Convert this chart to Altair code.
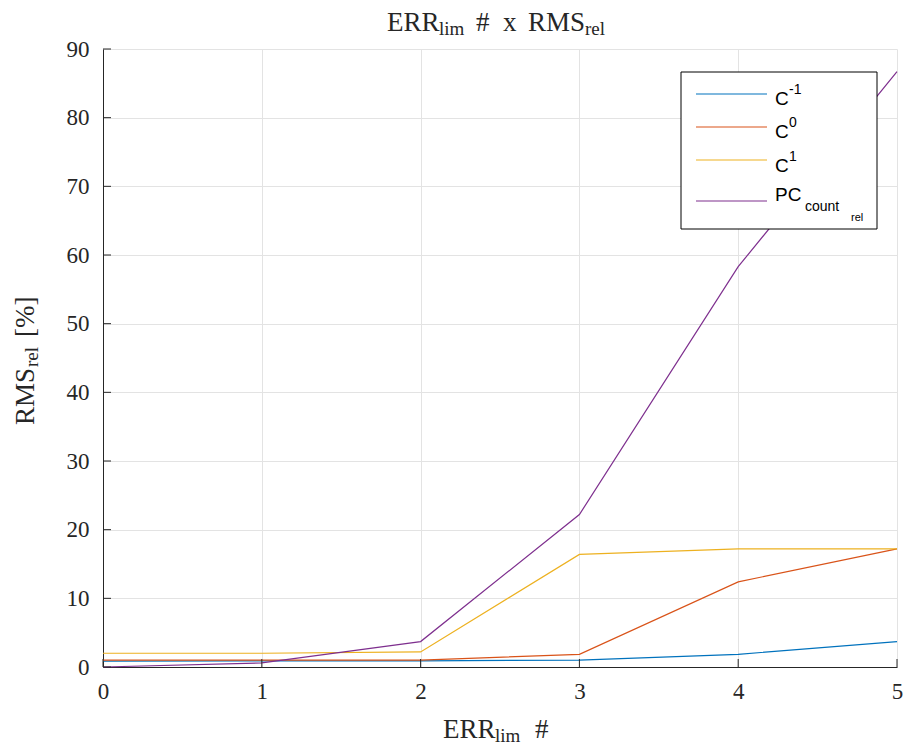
import altair as alt
import pandas as pd

# ---- data ----
err_lim = [0, 1, 2, 3, 4, 5]
c_minus1 = [0.85, 0.9, 0.9, 1.0, 1.85, 3.7]
c_zero = [1.0, 1.0, 1.0, 1.85, 12.4, 17.2]
c_one = [2.0, 2.0, 2.2, 16.4, 17.2, 17.2]
pc_count_rel = [0.0, 0.6, 3.7, 22.2, 58.3, 86.7]
series_ids = ["s0", "s1", "s2", "s3"]
series_colors = ["#0072BD", "#D95319", "#EDB120", "#7E2F8E"]
x_ticks = [0, 1, 2, 3, 4, 5]
y_ticks = [0, 10, 20, 30, 40, 50, 60, 70, 80, 90]

# ---- layout ----
W, H = 794, 618
OX, OY = 103, 49
INK = "#262626"
SERIF = "Liberation Serif"
SANS = "Liberation Sans"

rows = []
for sid, vals in zip(series_ids, [c_minus1, c_zero, c_one, pc_count_rel]):
    for xv, yv in zip(err_lim, vals):
        rows.append({"err": xv, "rms": yv, "series": sid})
df = pd.DataFrame(rows)

xscale = alt.Scale(domain=[0, 5], nice=False, zero=False)
yscale = alt.Scale(domain=[0, 90], nice=False)

lines = alt.Chart(df).mark_line(strokeWidth=1.2).encode(
    x=alt.X("err:Q", scale=xscale, title=None,
            axis=alt.Axis(values=x_ticks, format="d", grid=True, ticks=False,
                          labelPadding=13, labelFontSize=23, labelFont=SERIF,
                          labelFlush=False, labelColor=INK, domainColor=INK,
                          gridColor="#e3e3e3")),
    y=alt.Y("rms:Q", scale=yscale, title=None,
            axis=alt.Axis(values=y_ticks, format="d", grid=True, ticks=False,
                          labelPadding=14, labelFontSize=23, labelFont=SERIF,
                          labelFlush=False, labelColor=INK, domainColor=INK,
                          gridColor="#e3e3e3")),
    color=alt.Color("series:N", scale=alt.Scale(domain=series_ids, range=series_colors),
                    legend=None),
    order=alt.Order("err:Q"),
)

# inward ticks
xt = alt.Chart(pd.DataFrame({"t": x_ticks})).mark_rule(color=INK, strokeWidth=1).encode(
    x=alt.X("t:Q", scale=xscale), y=alt.value(H), y2=alt.value(H - 8))
yt = alt.Chart(pd.DataFrame({"t": y_ticks})).mark_rule(color=INK, strokeWidth=1).encode(
    y=alt.Y("t:Q", scale=yscale), x=alt.value(0), x2=alt.value(8))

layers = [lines, xt, yt]


def txt(s, ax, ay, size, font=SERIF, angle=0):
    return alt.Chart(pd.DataFrame({"s": [s]})).mark_text(
        align="left", baseline="alphabetic", font=font, fontSize=size,
        color=INK if font == SERIF else "#000000", angle=angle
    ).encode(text="s:N", x=alt.value(ax - OX), y=alt.value(ay - OY))


# title
layers += [
    txt("ERR", 387, 31, 27), txt("lim", 439, 35, 19),
    txt("#", 476, 31, 27), txt("x", 503, 31, 27),
    txt("RMS", 528, 31, 27), txt("rel", 585, 35, 19),
]
# x axis title
layers += [
    txt("ERR", 443, 738, 27), txt("lim", 495, 742, 19), txt("#", 535, 738, 27),
]
# y axis title (rotated)
layers += [
    txt("RMS", 34, 425, 27, angle=270), txt("rel", 38, 367, 19, angle=270),
    txt("[%]", 34, 337, 27, angle=270),
]

# legend
legend_box = alt.Chart(pd.DataFrame({"a": [0]})).mark_rect(
    fill="white", stroke="#000000", strokeWidth=1).encode(
    x=alt.value(681 - OX), x2=alt.value(877 - OX),
    y=alt.value(72 - OY), y2=alt.value(229 - OY))
layers.append(legend_box)
for col, ly in zip(series_colors, [94, 127, 160, 201]):
    layers.append(alt.Chart(pd.DataFrame({"a": [0]})).mark_rule(
        color=col, strokeWidth=1.2).encode(
        x=alt.value(696 - OX), x2=alt.value(767 - OX), y=alt.value(ly - OY)))
layers += [
    txt("C", 775, 105, 19, SANS), txt("-1", 789, 94, 14, SANS),
    txt("C", 775, 138, 19, SANS), txt("0", 789, 127, 14, SANS),
    txt("C", 775, 172, 19, SANS), txt("1", 789, 161, 14, SANS),
    txt("PC", 775, 201, 19, SANS), txt("count", 805, 211, 14, SANS),
    txt("rel", 851, 221, 11, SANS),
]

chart = alt.layer(*layers).properties(
    width=W, height=H,
    autosize=alt.AutoSizeParams(type="none"),
    padding={"left": OX, "top": OY, "right": 903 - OX - W, "bottom": 747 - OY - H},
    background="white",
).configure_view(stroke=None)

chart.save("out.html", embed_options={"renderer": "svg", "actions": False})
